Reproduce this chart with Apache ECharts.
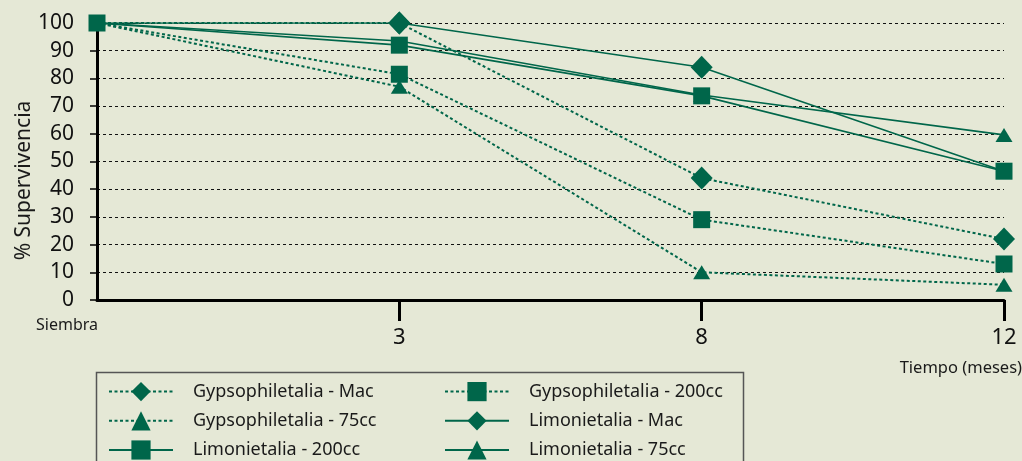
<!DOCTYPE html>
<html>
<head>
<meta charset="utf-8">
<script src="https://cdn.jsdelivr.net/npm/echarts@6/dist/echarts.min.js"></script>
<style>
html,body{margin:0;padding:0;background:#e5e8d6;}
#c{width:1022px;height:461px;}
</style>
</head>
<body>
<div id="c"></div>
<script>
const categories = ['Siembra', '3', '8', '12'];
const yTicks = [0, 10, 20, 30, 40, 50, 60, 70, 80, 90, 100];
const gypMac = [100, 100, 44, 22];
const gyp200 = [100, 81.5, 29, 13];
const gyp75 = [100, 77, 10, 5.5];
const limMac = [100, 100, 84, 46.5];
const lim200 = [100, 92, 73.7, 46.5];
const lim75 = [100, 93.5, 74, 59.6];
const names = ['Gypsophiletalia - Mac', 'Gypsophiletalia - 200cc', 'Gypsophiletalia - 75cc',
               'Limonietalia - Mac', 'Limonietalia - 200cc', 'Limonietalia - 75cc'];

const green = '#00664a';
const font = 'Noto Sans';

// hidden: indices whose marker is covered by another series' marker in the original
function mk(name, values, dotted, symbol, size, hidden) {
  const data = values.map(function (v, i) {
    return hidden.indexOf(i) >= 0 ? { value: v, symbol: 'none' } : v;
  });
  return {
    name: name, type: 'line', data: data,
    symbol: symbol, symbolSize: size,
    itemStyle: { color: green },
    lineStyle: { color: green, width: dotted ? 2 : 1.6, type: dotted ? [3, 2.5] : 'solid' },
    emphasis: { disabled: true },
    animation: false
  };
}

const chart = echarts.init(document.getElementById('c'));
const legendCommon = {
  orient: 'vertical', top: 382, padding: 0, itemWidth: 64, itemHeight: 24, itemGap: 10,
  textStyle: { fontFamily: font, fontSize: 18, color: '#1a1a1a', padding: [0, 0, 0, 15] },
  selectedMode: false
};
chart.setOption({
  backgroundColor: '#e5e8d6',
  textStyle: { fontFamily: font },
  grid: { left: 97, right: 18, top: 23, bottom: 161, containLabel: false },
  title: {
    text: 'Tiempo (meses)', right: 0, top: 360, padding: 0,
    textStyle: { fontFamily: font, fontSize: 16.5, fontWeight: 'normal', color: '#1a1a1a' }
  },
  legend: [
    Object.assign({ left: 108, data: [names[0], names[2], names[4]] }, legendCommon),
    Object.assign({ left: 444, data: [names[1], names[3], names[5]] }, legendCommon)
  ],
  graphic: [{
    type: 'rect', left: 94, top: 370, z: 0,
    shape: { x: 0, y: 0, width: 647, height: 100 },
    style: { fill: 'none', stroke: '#555', lineWidth: 1.5 }
  }],
  xAxis: {
    type: 'category', data: categories, boundaryGap: false,
    axisLine: { lineStyle: { color: '#000', width: 3 } },
    axisTick: { show: true, length: 21, lineStyle: { color: '#000', width: 3 },
                interval: function (i) { return i !== 0; } },
    axisLabel: {
      interval: 0, fontSize: 22, color: '#111', margin: 38, verticalAlign: 'middle',
      formatter: function (v) { return v === 'Siembra' ? '{s|' + v + '}' : v; },
      rich: { s: { fontSize: 16, fontFamily: font, color: '#1a1a1a', padding: [0, 60, 26, 0] } }
    },
    splitLine: { show: false }
  },
  yAxis: {
    type: 'value', min: 0, max: 100, interval: 10,
    name: '% Supervivencia', nameLocation: 'middle', nameGap: 62, nameMoveOverlap: false,
    nameTextStyle: { fontFamily: font, fontSize: 21, color: '#1a1a1a', padding: [0, 38, 0, 0] },
    axisLine: { show: true, lineStyle: { color: '#000', width: 3 } },
    axisTick: { show: true, length: 7, lineStyle: { color: '#000', width: 1.5 } },
    axisLabel: { fontSize: 21, color: '#111', margin: 23,
                 formatter: function (v) { return yTicks.indexOf(v) >= 0 ? String(v) : ''; } },
    splitLine: { show: true, lineStyle: { color: '#111', type: [3, 3], width: 1 } }
  },
  series: [
    mk(names[0], gypMac, true, 'diamond', [22, 23], [0]),
    mk(names[1], gyp200, true, 'rect', 17, [0]),
    mk(names[2], gyp75, true, 'triangle', [17, 14], [0]),
    mk(names[3], limMac, false, 'diamond', [22, 23], [0, 3]),
    mk(names[5], lim75, false, 'triangle', [17, 14], [0, 1]),
    mk(names[4], lim200, false, 'rect', 17, [])
  ]
});
</script>
</body>
</html>
